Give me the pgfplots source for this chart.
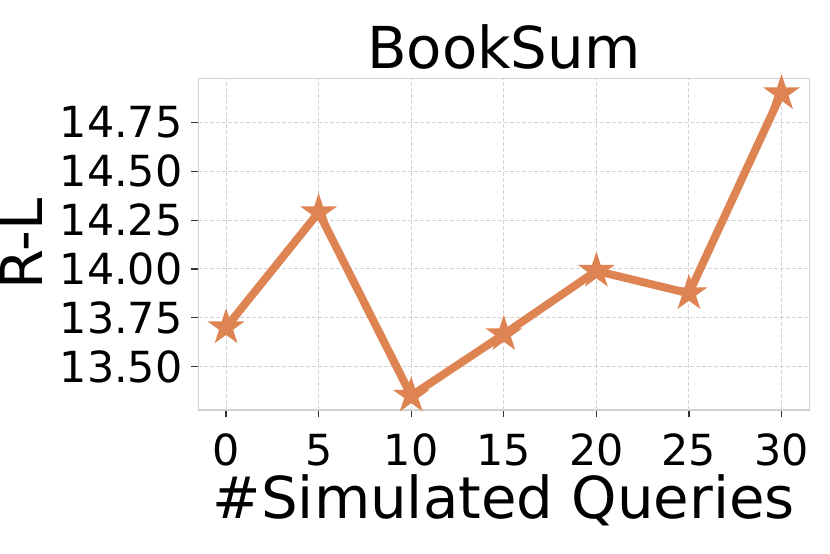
\documentclass[border=0pt]{standalone}
\usepackage{pgfplots}
\pgfplotsset{compat=1.18}
\usepackage{fontspec}
\setmainfont{DejaVu Sans}

\definecolor{lineorange}{RGB}{221,132,82}
\definecolor{framegray}{RGB}{208,208,208}
\definecolor{gridgray}{RGB}{212,212,212}

% filled five-point star, like matplotlib's '*'
\pgfdeclareplotmark{fstar}{%
  \pgfpathmoveto{\pgfpointpolar{90}{\pgfplotmarksize}}%
  \pgfpathlineto{\pgfpointpolar{126}{0.382\pgfplotmarksize}}%
  \pgfpathlineto{\pgfpointpolar{162}{\pgfplotmarksize}}%
  \pgfpathlineto{\pgfpointpolar{198}{0.382\pgfplotmarksize}}%
  \pgfpathlineto{\pgfpointpolar{234}{\pgfplotmarksize}}%
  \pgfpathlineto{\pgfpointpolar{270}{0.382\pgfplotmarksize}}%
  \pgfpathlineto{\pgfpointpolar{306}{\pgfplotmarksize}}%
  \pgfpathlineto{\pgfpointpolar{342}{0.382\pgfplotmarksize}}%
  \pgfpathlineto{\pgfpointpolar{18}{\pgfplotmarksize}}%
  \pgfpathlineto{\pgfpointpolar{54}{0.382\pgfplotmarksize}}%
  \pgfpathclose
  \pgfusepathqfill
}

\begin{document}
\begin{tikzpicture}
\useasboundingbox (-99.15bp,-72bp) rectangle (315.85bp,205bp);
\begin{axis}[
    at={(0,0)}, anchor=south west,
    scale only axis,
    width=305.5bp, height=165.85bp,
    xmin=-1.5, xmax=31.5,
    ymin=13.277, ymax=14.977,
    xtick={0,5,10,15,20,25,30},
    ytick={13.5,13.75,14,14.25,14.5,14.75},
    yticklabel style={/pgf/number format/fixed, /pgf/number format/fixed zerofill, /pgf/number format/precision=2},
    /pgf/number format/assume math mode=true,
    tick align=outside,
    major tick length=3.5bp,
    tick style={black!80, line width=0.6bp},
    xtick pos=bottom, ytick pos=left,
    axis line style={framegray, line width=0.6bp},
    grid=major,
    major grid style={gridgray, line width=0.5bp, dash pattern=on 1.8bp off 1.2bp},
    ticklabel style={font=\fontsize{21.5}{26}\selectfont},
    xticklabel style={anchor=base, inner sep=0pt, yshift=-24bp},
    yticklabel style={anchor=east, inner sep=0pt, xshift=-4.2bp},
    every axis title shift=0pt,
    title={BookSum},
    title style={font=\fontsize{29}{35}\selectfont, at={(axis description cs:0.5,1.030)}, anchor=base, inner sep=0pt},
    xlabel={\#Simulated Queries},
    ylabel={R-L},
    xlabel style={font=\fontsize{29}{35}\selectfont, at={(axis description cs:0.5,-0.3286)}, anchor=base, inner sep=0pt},
    ylabel style={font=\fontsize{29}{35}\selectfont, at={(axis description cs:-0.2545,0.5)}, anchor=base, inner sep=0pt},
]
\addplot[lineorange, line width=4bp, mark=fstar, mark size=9.7bp, mark options={solid}] coordinates {
    (0, 13.70) (5, 14.29) (10, 13.35) (15, 13.665) (20, 13.99) (25, 13.875) (30, 14.90)
};
\end{axis}
\end{tikzpicture}
\end{document}
